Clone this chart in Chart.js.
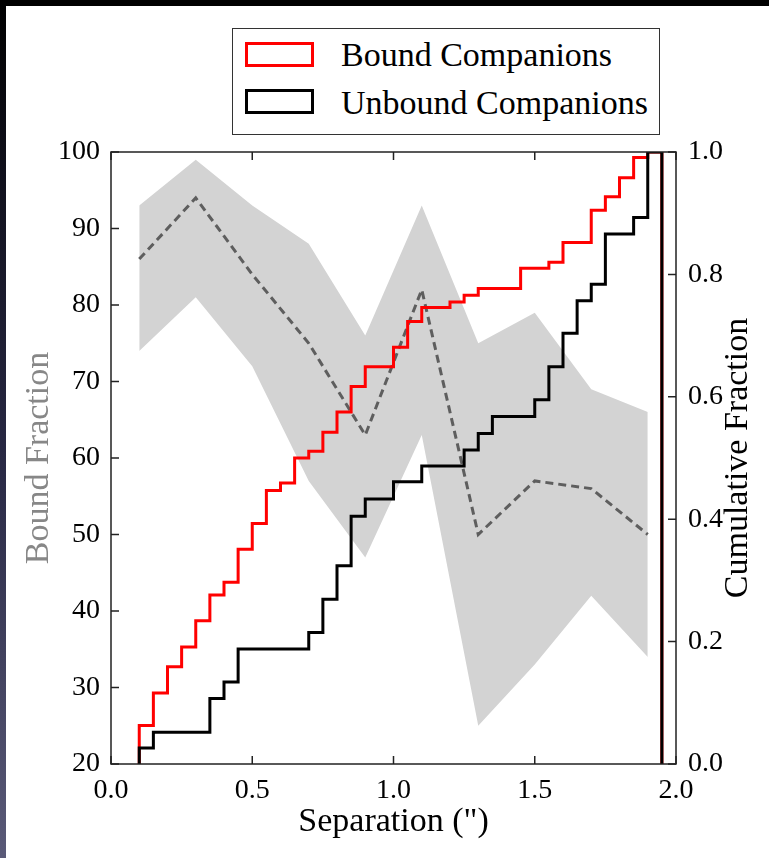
<!DOCTYPE html>
<html>
<head>
<meta charset="utf-8">
<script src="https://cdn.jsdelivr.net/npm/chart.js@4.4.0/dist/chart.umd.min.js"></script>
<style>
  html, body { margin: 0; padding: 0; background: #fff; }
  #wrap { position: relative; width: 769px; height: 858px; overflow: hidden; background: #fff; }
  #topBar { position: absolute; left: 0; top: 0; width: 769px; height: 6px; background: #000; }
  #leftBar { position: absolute; left: 0; top: 0; width: 6px; height: 858px;
             background: linear-gradient(#000 0%, #10101c 20%, #2a2a46 55%, #5a5a78 100%); }
  #bfChart { position: absolute; left: 0; top: 0; }
  #legend { position: absolute; left: 232px; top: 28px; width: 428px; height: 107px;
            box-sizing: border-box; border: 1px solid #333; background: #fff;
            font-family: 'Liberation Serif', 'Times New Roman', serif; }
  .legend-box { position: absolute; left: 12px; width: 69px; height: 25px; box-sizing: border-box; border: 3px solid #000; }
  .legend-text { position: absolute; left: 108px; font-size: 34px; line-height: 34px; color: #000; white-space: nowrap; }
</style>
</head>
<body>
<div id="wrap">
  <div id="topBar"></div>
  <div id="leftBar"></div>
  <canvas id="bfChart" width="769" height="858"></canvas>
  <div id="legend"></div>
</div>
<script>
// bound fraction (left axis) sampled every 0.2"
const sepMid = [0.1, 0.3, 0.5, 0.7, 0.9, 1.1, 1.3, 1.5, 1.7, 1.9];
const boundFrac = [86, 94, 84, 75, 63, 82, 50, 57, 56, 50];
const boundUpper = [93, 99, 93, 88, 76, 93, 75, 79, 69, 66];
const boundLower = [74, 81, 72, 57, 47, 63, 25, 33, 42, 34];

// cumulative histograms (right axis), bins of 0.05"
const binEdges = [0.10, 0.15, 0.20, 0.25, 0.30, 0.35, 0.40, 0.45, 0.50, 0.55,
                  0.60, 0.65, 0.70, 0.75, 0.80, 0.85, 0.90, 0.95, 1.00, 1.05,
                  1.10, 1.15, 1.20, 1.25, 1.30, 1.35, 1.40, 1.45, 1.50, 1.55,
                  1.60, 1.65, 1.70, 1.75, 1.80, 1.85, 1.90, 1.95];
const cumBound = [0.063, 0.116, 0.159, 0.191, 0.234, 0.276, 0.297, 0.351, 0.393, 0.447,
                  0.459, 0.500, 0.511, 0.542, 0.575, 0.617, 0.649, 0.649, 0.681, 0.723,
                  0.746, 0.746, 0.755, 0.766, 0.777, 0.777, 0.777, 0.810, 0.810, 0.820,
                  0.852, 0.852, 0.905, 0.927, 0.958, 0.991, 1.000];
const cumUnbound = [0.026, 0.052, 0.052, 0.052, 0.052, 0.107, 0.134, 0.188, 0.188, 0.188,
                    0.188, 0.188, 0.215, 0.269, 0.324, 0.405, 0.433, 0.433, 0.461, 0.461,
                    0.487, 0.487, 0.487, 0.513, 0.540, 0.568, 0.568, 0.568, 0.595, 0.649,
                    0.704, 0.757, 0.784, 0.866, 0.866, 0.893, 1.000];

const xTitle = 'Separation (")';
const leftTitle = 'Bound Fraction';
const rightTitle = 'Cumulative Fraction';

const serif = "'Liberation Serif', 'Times New Roman', serif";

function pairs(xs, ys) {
    return xs.map((x, i) => ({ x: x, y: ys[i] }));
}

// outline of a step histogram: up at the first edge, down at the last
function stepPoints(values) {
    const pts = [{ x: binEdges[0], y: 0 }];
    values.forEach((v, i) => pts.push({ x: binEdges[i], y: v }));
    pts.push({ x: binEdges[binEdges.length - 1], y: 0 });
    return pts;
}

// matplotlib-style frame with inward ticks, plus the right-hand title
const frameAndTicks = {
    id: 'frameAndTicks',
    afterDatasetsDraw(chart) {
        const { ctx, chartArea: a, scales } = chart;
        ctx.save();
        ctx.strokeStyle = '#222';
        ctx.lineWidth = 1.5;
        ctx.beginPath();
        scales.x.ticks.forEach(t => {
            const px = scales.x.getPixelForValue(t.value);
            ctx.moveTo(px, a.bottom); ctx.lineTo(px, a.bottom - 8);
            ctx.moveTo(px, a.top); ctx.lineTo(px, a.top + 8);
        });
        scales.y.ticks.forEach(t => {
            const py = scales.y.getPixelForValue(t.value);
            ctx.moveTo(a.left, py); ctx.lineTo(a.left + 8, py);
        });
        scales.y2.ticks.forEach(t => {
            const py = scales.y2.getPixelForValue(t.value);
            ctx.moveTo(a.right, py); ctx.lineTo(a.right - 8, py);
        });
        ctx.stroke();
        ctx.strokeRect(a.left, a.top, a.right - a.left, a.bottom - a.top);

        ctx.translate(scales.y2.right - 31, (a.top + a.bottom) / 2);
        ctx.rotate(-Math.PI / 2);
        ctx.fillStyle = '#000';
        ctx.font = '34px ' + serif;
        ctx.textAlign = 'center';
        ctx.textBaseline = 'middle';
        ctx.fillText(rightTitle, 0, 0);
        ctx.restore();
    }
};

const ctx = document.getElementById('bfChart').getContext('2d');
const chart = new Chart(ctx, {
    type: 'line',
    data: {
        datasets: [
            {
                label: 'Unbound Companions',
                data: stepPoints(cumUnbound),
                yAxisID: 'y2',
                stepped: true,
                borderColor: '#000',
                borderWidth: 3,
                borderJoinStyle: 'miter',
                pointRadius: 0,
                fill: false,
                order: 1,
                inLegend: true
            },
            {
                label: 'Bound Companions',
                data: stepPoints(cumBound),
                yAxisID: 'y2',
                stepped: true,
                borderColor: '#ff0000',
                borderWidth: 3,
                borderJoinStyle: 'miter',
                pointRadius: 0,
                fill: false,
                order: 2,
                inLegend: true
            },
            {
                label: 'Bound fraction',
                data: pairs(sepMid, boundFrac),
                yAxisID: 'y',
                borderColor: '#5e5e5e',
                borderWidth: 3,
                borderDash: [8, 5],
                pointRadius: 0,
                tension: 0,
                fill: false,
                order: 3
            },
            {
                label: 'lower',
                data: pairs(sepMid, boundLower),
                yAxisID: 'y',
                borderColor: 'rgba(0,0,0,0)',
                borderWidth: 0,
                pointRadius: 0,
                tension: 0,
                fill: false,
                order: 4
            },
            {
                label: 'upper',
                data: pairs(sepMid, boundUpper),
                yAxisID: 'y',
                borderColor: 'rgba(0,0,0,0)',
                borderWidth: 0,
                backgroundColor: '#d3d3d3',
                pointRadius: 0,
                tension: 0,
                fill: '-1',
                order: 5
            }
        ]
    },
    options: {
        responsive: false,
        animation: false,
        layout: { padding: { top: 152, left: 0, right: 0, bottom: 0 } },
        plugins: {
            legend: { display: false },
            tooltip: { enabled: false }
        },
        scales: {
            x: {
                type: 'linear',
                min: 0,
                max: 2,
                grid: { display: false, drawTicks: false },
                border: { display: false },
                ticks: {
                    stepSize: 0.5,
                    padding: 10,
                    color: '#000',
                    font: { family: serif, size: 28 },
                    callback: v => v.toFixed(1)
                },
                title: {
                    display: true,
                    text: xTitle,
                    color: '#000',
                    font: { family: serif, size: 34 },
                    padding: { top: 0, bottom: 16 }
                },
                afterFit: scale => { scale.height = 94; }
            },
            y: {
                position: 'left',
                min: 20,
                max: 100,
                grid: { display: false, drawTicks: false },
                border: { display: false },
                ticks: {
                    stepSize: 10,
                    padding: 11,
                    color: '#000',
                    font: { family: serif, size: 28 }
                },
                title: {
                    display: true,
                    text: leftTitle,
                    color: '#878787',
                    font: { family: serif, size: 34 },
                    padding: { top: 19, bottom: 0 }
                },
                afterFit: scale => { scale.width = 111; }
            },
            y2: {
                position: 'right',
                min: 0,
                max: 1,
                grid: { display: false, drawTicks: false },
                border: { display: false },
                ticks: {
                    stepSize: 0.2,
                    padding: 12,
                    color: '#000',
                    font: { family: serif, size: 28 },
                    callback: v => v.toFixed(1)
                },
                afterFit: scale => { scale.width = 93; }
            }
        }
    },
    plugins: [frameAndTicks]
});

// legend drawn as a framed html box, bound first
function buildLegend() {
    const legendDiv = document.getElementById('legend');
    legendDiv.innerHTML = '';
    const items = chart.data.datasets.filter(ds => ds.inLegend).reverse();
    const boxTops = [13, 60];
    const textTops = [9, 57];
    items.forEach((ds, i) => {
        const box = document.createElement('div');
        box.className = 'legend-box';
        box.style.top = boxTops[i] + 'px';
        box.style.borderColor = ds.borderColor;
        legendDiv.appendChild(box);

        const text = document.createElement('div');
        text.className = 'legend-text';
        text.style.top = textTops[i] + 'px';
        text.textContent = ds.label;
        legendDiv.appendChild(text);
    });
}

buildLegend();
</script>
</body>
</html>
